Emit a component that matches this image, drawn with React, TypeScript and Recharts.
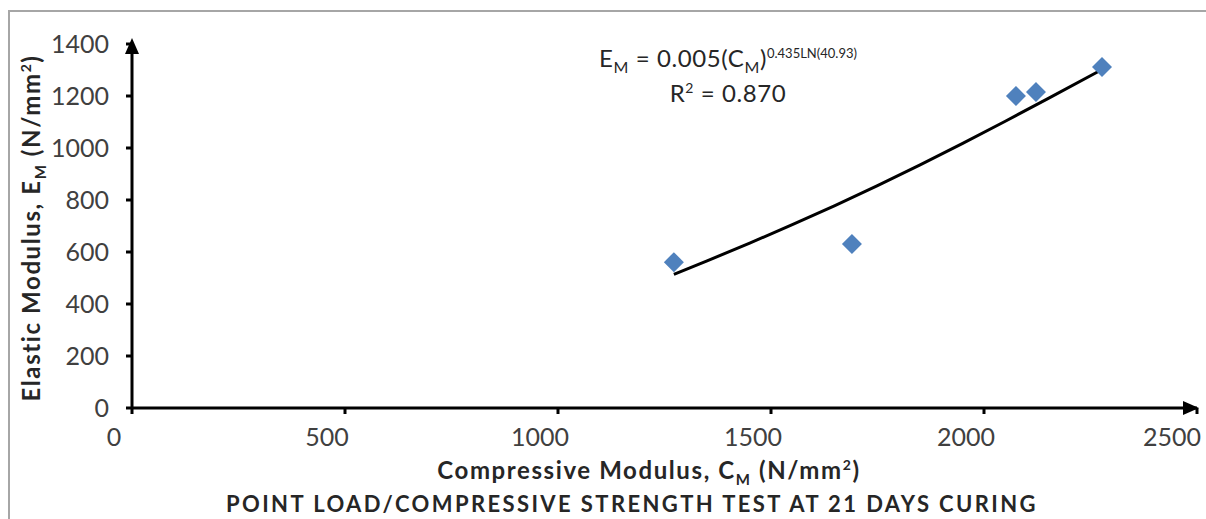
import { ScatterChart, Scatter, XAxis, YAxis, ReferenceDot } from 'recharts'

// measured points (compressive vs elastic modulus, N/mm²)
const modulusC = [1272, 1690, 2075, 2122, 2277]
const modulusE = [561, 631, 1200, 1215, 1312]

// power trend line
const trendC = [1272, 1350, 1450, 1550, 1650, 1750, 1850, 1950, 2050, 2150, 2275]
const trendE = [514, 566, 634, 705, 778, 855, 935, 1018, 1103, 1190, 1300]

const xTicks = [0, 500, 1000, 1500, 2000, 2500]
const yTicks = [0, 200, 400, 600, 800, 1000, 1200, 1400]

const points = modulusC.map((c, i) => ({ c, e: modulusE[i] }))
const trend = trendC.map((c, i) => ({ c, e: trendE[i] }))

const FONT = 'Lato, "Open Sans", sans-serif'
const BLUE = '#4f81bd'
const TEXT = '#262626'

function Diamond(props: any) {
  const { cx, cy } = props
  const r = 10
  return (
    <polygon
      points={`${cx},${cy - r} ${cx + r},${cy} ${cx},${cy + r} ${cx - r},${cy}`}
      fill={BLUE}
    />
  )
}

// Excel-ish labels sit a bit left of their ticks
function XTick(props: any) {
  const { x, y, payload } = props
  return (
    <text x={x - 18} y={y} dy="0.71em" textAnchor="middle" fill="#404040" fontSize={25} fontFamily={FONT}>
      {payload.value}
    </text>
  )
}

function ArrowRight(props: any) {
  const { cx, cy } = props
  return <polygon points={`${cx + 2},${cy} ${cx - 14},${cy - 7} ${cx - 14},${cy + 7}`} fill="#000" />
}

function ArrowUp(props: any) {
  const { cx, cy } = props
  return <polygon points={`${cx},${cy - 6} ${cx - 7},${cy + 10} ${cx + 7},${cy + 10}`} fill="#000" />
}

export default function App() {
  return (
    <div style={{ position: 'fixed', left: 0, top: 0, width: 1206, height: 519, background: '#fff', overflow: 'hidden' }}>
      <div
        style={{
          position: 'absolute',
          left: 8,
          top: 10,
          width: 1300,
          height: 600,
          borderLeft: '2px solid #a6a6a6',
          borderTop: '2px solid #a6a6a6',
        }}
      />
      <ScatterChart
        width={1206}
        height={519}
        margin={{ top: 44, right: 9, left: 32, bottom: 71 }}
        style={{ position: 'absolute', left: 0, top: 0 }}
      >
        <XAxis
          type="number"
          dataKey="c"
          domain={[0, 2500]}
          ticks={xTicks}
          height={40}
          axisLine={{ stroke: '#000', strokeWidth: 3 }}
          tickLine={{ stroke: '#000', strokeWidth: 3 }}
          tickSize={6}
          tickMargin={14}
          tick={<XTick />}
          allowDataOverflow
        />
        <YAxis
          type="number"
          dataKey="e"
          domain={[0, 1400]}
          ticks={yTicks}
          width={100}
          axisLine={{ stroke: '#000', strokeWidth: 3 }}
          tickLine={{ stroke: '#000', strokeWidth: 3 }}
          tickSize={6}
          tickMargin={17}
          tick={{ fill: '#404040', fontSize: 25, fontFamily: FONT }}
          allowDataOverflow
        />
        <Scatter
          data={trend}
          line={{ stroke: '#000', strokeWidth: 3 }}
          lineType="joint"
          shape={() => <g />}
          isAnimationActive={false}
        />
        <Scatter data={points} shape={<Diamond />} isAnimationActive={false} />
        <ReferenceDot x={2500} y={0} ifOverflow="visible" shape={<ArrowRight />} />
        <ReferenceDot x={0} y={1400} ifOverflow="visible" shape={<ArrowUp />} />
      </ScatterChart>

      <div
        style={{
          position: 'absolute',
          left: 0,
          width: 1456,
          top: 40,
          textAlign: 'center',
          fontFamily: FONT,
          fontSize: 24,
          color: TEXT,
          lineHeight: '35px',
          letterSpacing: 0.6,
        }}
      >
        <div>
          E<sub style={{ fontSize: 16, lineHeight: 0 }}>M</sub> = 0.005(C<sub style={{ fontSize: 16, lineHeight: 0 }}>M</sub>)
          <sup style={{ fontSize: 13, lineHeight: 0, letterSpacing: 0 }}>0.435LN(40.93)</sup>
        </div>
        <div>
          R<sup style={{ fontSize: 14, lineHeight: 0 }}>2</sup> = 0.870
        </div>
      </div>

      <div
        style={{
          position: 'absolute',
          left: 31,
          top: 228,
          transform: 'translate(-50%, -50%) rotate(-90deg)',
          whiteSpace: 'nowrap',
          fontFamily: FONT,
          fontWeight: 700,
          fontSize: 24,
          lineHeight: '28px',
          letterSpacing: 1.6,
          color: TEXT,
        }}
      >
        Elastic Modulus, E<sub style={{ fontSize: 15, lineHeight: 0 }}>M</sub> (N/mm<sup style={{ fontSize: 14, lineHeight: 0 }}>2</sup>)
      </div>

      <div
        style={{
          position: 'absolute',
          left: 0,
          width: 1298,
          top: 456,
          textAlign: 'center',
          fontFamily: FONT,
          fontWeight: 700,
          fontSize: 24,
          lineHeight: '28px',
          letterSpacing: 1.6,
          color: TEXT,
          whiteSpace: 'nowrap',
        }}
      >
        Compressive Modulus, C<sub style={{ fontSize: 15, lineHeight: 0 }}>M</sub> (N/mm<sup style={{ fontSize: 14, lineHeight: 0 }}>2</sup>)
      </div>
      <div
        style={{
          position: 'absolute',
          left: 0,
          width: 1264,
          top: 491,
          textAlign: 'center',
          fontFamily: FONT,
          fontWeight: 700,
          fontSize: 22,
          lineHeight: '26px',
          letterSpacing: 2.4,
          color: TEXT,
          whiteSpace: 'nowrap',
        }}
      >
        POINT LOAD/COMPRESSIVE STRENGTH TEST AT 21 DAYS CURING
      </div>
    </div>
  )
}
